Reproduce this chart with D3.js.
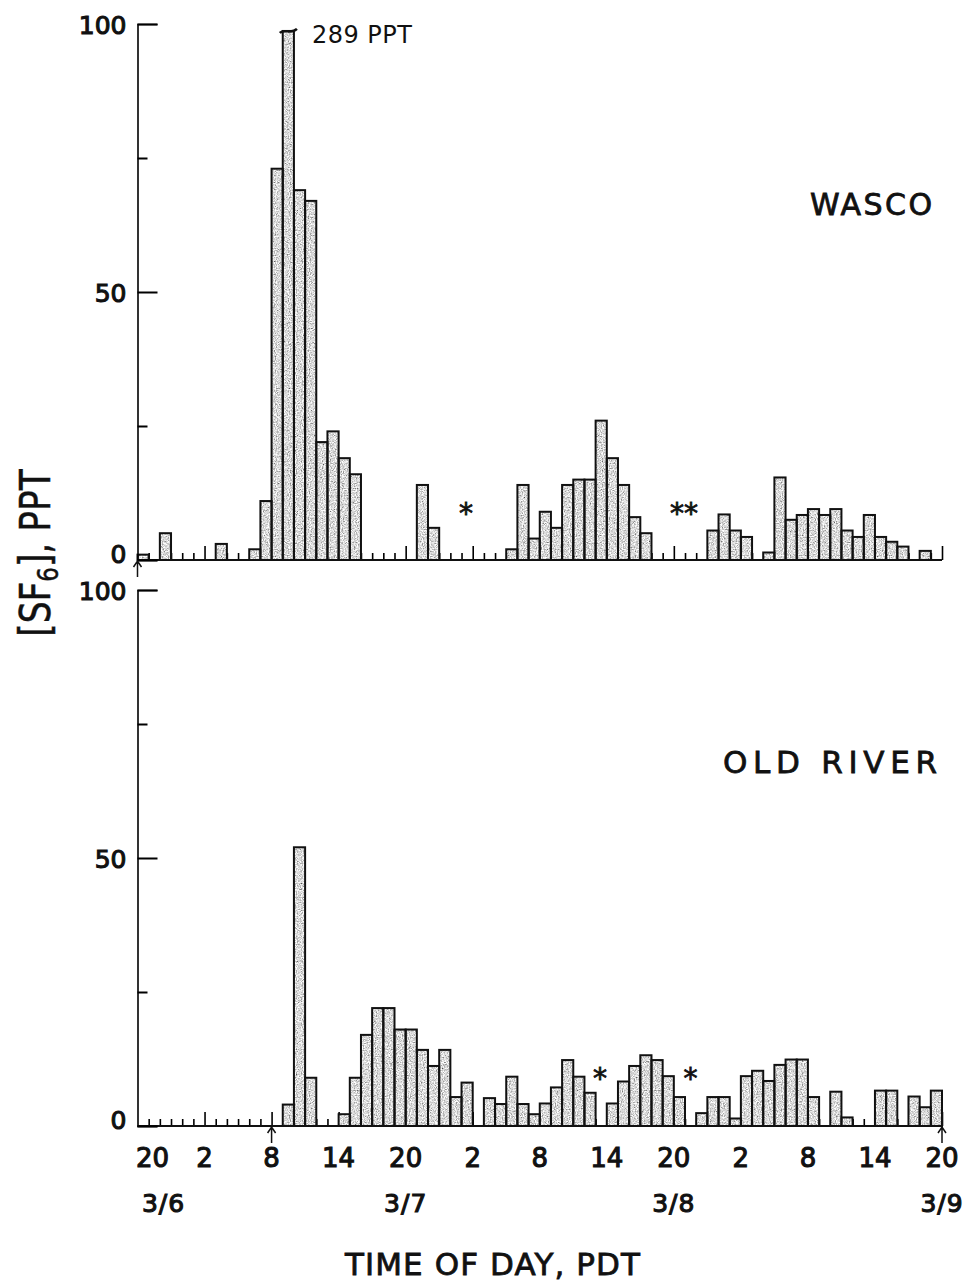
<!DOCTYPE html>
<html>
<head>
<meta charset="utf-8">
<script src="https://cdn.jsdelivr.net/npm/d3@7"></script>
<style>
body { margin: 0; background: #fff; }
text { font-family: "DejaVu Sans", "Liberation Sans", sans-serif; fill: #111; }
</style>
</head>
<body>
<svg width="975" height="1282"></svg>
<script>
// hourly SF6 samples, hour 0 = 3/6 20:00 PDT, 0 = no bar
var wasco = [1, 0, 5, 0, 0, 0, 0, 3, 0, 0, 2, 11,
             73, 289, 69, 67, 22, 24, 19, 16, 0, 0, 0, 0,
             0, 14, 6, 0, 0, 0, 0, 0, 0, 2, 14, 4,
             9, 6, 14, 15, 15, 26, 19, 14, 8, 5, 0, 0,
             0, 0, 0, 5.5, 8.5, 5.5, 4.3, 0, 1.4, 15.4, 7.5, 8.4,
             9.5, 8.4, 9.5, 5.5, 4.3, 8.4, 4.3, 3.4, 2.5, 0, 1.7, 0];

var oldRiver = [0, 0, 0, 0, 0, 0, 0, 0, 0, 0, 0, 0,
                0, 4, 52, 9, 0, 0, 2.2, 9, 17, 22, 22, 18,
                18, 14.2, 11.2, 14.2, 5.4, 8.1, 0, 5.2, 4.1, 9.2, 4.1, 2.2,
                4.2, 7.2, 12.3, 9.2, 6.2, 0, 4.2, 8.3, 11.2, 13.2, 12.3, 9.3,
                5.4, 0, 2.4, 5.4, 5.4, 1.4, 9.3, 10.3, 8.4, 11.4, 12.4, 12.4,
                5.4, 0, 6.4, 1.6, 0, 0, 6.6, 6.6, 0, 5.5, 3.5, 6.6];

var hourTicks = [0, 6, 12, 18, 24, 30, 36, 42, 48, 54, 60, 66, 72];
var hourLabels = ["20", "2", "8", "14", "20", "2", "8", "14", "20", "2", "8", "14", "20"];
var dateTicks = [0, 24, 48, 72];
var dateLabels = ["3/6", "3/7", "3/8", "3/9"];
var majorY = [0, 50, 100];
var minorY = [25, 75];

// asterisks (hour, level) and up-arrows (hour) drawn on each panel
var wascoStars = [[29.4, 10, "*"], [48.9, 10, "**"]];
var oldRiverStars = [[41.4, 10.3, "*"], [49.5, 10.3, "*"]];
var wascoArrows = [0];
var oldRiverArrows = [12, 72];

var svg = d3.select("svg");

var x = d3.scaleLinear().domain([0, 72]).range([137.5, 942]);
var yTop = d3.scaleLinear().domain([0, 100]).range([560, 24]);
var yBot = d3.scaleLinear().domain([0, 100]).range([1126, 590]);

// speckled grey fill like the stippled bars of the original
var filter = svg.append("defs").append("filter")
    .attr("id", "stipple")
    .attr("x", 0).attr("y", 0).attr("width", 1).attr("height", 1);
filter.append("feTurbulence")
    .attr("type", "fractalNoise")
    .attr("baseFrequency", 0.85)
    .attr("numOctaves", 2)
    .attr("seed", 4)
    .attr("result", "noise");
filter.append("feColorMatrix")
    .attr("in", "noise")
    .attr("type", "matrix")
    .attr("values", "1.6 0 0 0 -0.1  1.6 0 0 0 -0.1  1.6 0 0 0 -0.1  0 0 0 0 1")
    .attr("result", "grey");
filter.append("feComposite")
    .attr("in", "grey")
    .attr("in2", "SourceGraphic")
    .attr("operator", "in");

function drawPanel(values, y, stars, arrows) {
  var g = svg.append("g");
  var clipAt = 98.7;

  // hour ticks pointing up from the baseline
  var minor = d3.range(1, 72).filter(function(h) { return h % 6 != 0; });
  g.append("g")
      .attr("transform", "translate(0," + y(0) + ")")
      .call(d3.axisTop(x).tickValues(minor).tickSize(7).tickFormat(""))
      .call(function(a) { a.select(".domain").remove(); })
      .selectAll("line").attr("stroke-width", 1.6);
  g.append("g")
      .attr("transform", "translate(0," + y(0) + ")")
      .call(d3.axisTop(x).tickValues(hourTicks.slice(1)).tickSize(14).tickFormat(""))
      .call(function(a) { a.select(".domain").remove(); })
      .selectAll("line").attr("stroke-width", 1.6);

  var data = values.map(function(v, i) { return {hour: i, value: v}; })
      .filter(function(d) { return d.value > 0; });

  g.selectAll(".fill")
    .data(data)
    .enter().append("rect")
      .attr("class", "fill")
      .attr("x", function(d) { return x(d.hour); })
      .attr("width", function(d) { return x(d.hour + 1) - x(d.hour); })
      .attr("y", function(d) { return y(Math.min(d.value, clipAt)); })
      .attr("height", function(d) { return y(0) - y(Math.min(d.value, clipAt)); })
      .attr("fill", "#fff")
      .attr("filter", "url(#stipple)");

  g.selectAll(".bar")
    .data(data)
    .enter().append("rect")
      .attr("class", "bar")
      .attr("x", function(d) { return x(d.hour); })
      .attr("width", function(d) { return x(d.hour + 1) - x(d.hour); })
      .attr("y", function(d) { return y(Math.min(d.value, clipAt)); })
      .attr("height", function(d) { return y(0) - y(Math.min(d.value, clipAt)); })
      .attr("fill", "none")
      .attr("stroke", "#111")
      .attr("stroke-width", 2);

  // off-scale bar: wavy break mark and its value
  data.filter(function(d) { return d.value > 100; }).forEach(function(d) {
    var x0 = x(d.hour) - 3, x1 = x(d.hour + 1) + 3, yt = y(clipAt);
    g.append("path")
        .attr("d", "M" + x0 + "," + (yt + 2) + " C" + (x0 + 5) + "," + (yt - 3) + " " +
              (x1 - 6) + "," + (yt + 4) + " " + x1 + "," + (yt - 2))
        .attr("fill", "none")
        .attr("stroke", "#111")
        .attr("stroke-width", 2.5);
    g.append("text")
        .attr("x", x(d.hour + 1) + 18)
        .attr("y", yt + 12)
        .attr("textLength", 100)
        .style("font-size", "24px")
        .text(d.value + " PPT");
  });

  // baseline
  g.append("line")
      .attr("x1", x(0)).attr("x2", x(72))
      .attr("y1", y(0)).attr("y2", y(0))
      .attr("stroke", "#111").attr("stroke-width", 2.2);

  // y axis
  g.append("g")
      .attr("transform", "translate(" + x(0) + ",0)")
      .call(d3.axisRight(y).tickValues(majorY).tickSize(20).tickFormat(""))
      .call(function(a) { a.select(".domain").attr("stroke-width", 1.6); })
      .selectAll("line").attr("stroke-width", 2);
  g.append("g")
      .attr("transform", "translate(" + x(0) + ",0)")
      .call(d3.axisRight(y).tickValues(minorY).tickSize(10).tickFormat(""))
      .call(function(a) { a.select(".domain").remove(); })
      .selectAll("line").attr("stroke-width", 2);

  g.selectAll(".ylab")
    .data(majorY)
    .enter().append("text")
      .attr("class", "ylab")
      .attr("x", x(0) - 11)
      .attr("y", function(d) { return y(d) + (d === 0 ? 3 : 10); })
      .attr("text-anchor", "end")
      .style("font-size", "25px")
      .style("stroke", "#111").style("stroke-width", 1.1)
      .text(function(d) { return d; });

  g.selectAll(".star")
    .data(stars)
    .enter().append("text")
      .attr("class", "star")
      .attr("x", function(d) { return x(d[0]); })
      .attr("y", function(d) { return y(d[1]) + 17; })
      .attr("text-anchor", "middle")
      .style("font-size", "28px")
      .style("stroke", "#111").style("stroke-width", 0.8)
      .text(function(d) { return d[2]; });

  arrows.forEach(function(h) {
    var ax = x(h), ay = y(0);
    g.append("path")
        .attr("d", "M" + ax + "," + (ay + 17) + " L" + ax + "," + (ay + 1) +
              " M" + (ax - 4) + "," + (ay + 7) + " L" + ax + "," + (ay + 1) + " L" + (ax + 4) + "," + (ay + 7))
        .attr("fill", "none")
        .attr("stroke", "#111")
        .attr("stroke-width", 1.5);
  });

  return g;
}

drawPanel(wasco, yTop, wascoStars, wascoArrows);
drawPanel(oldRiver, yBot, oldRiverStars, oldRiverArrows);

// site names
svg.append("text")
    .attr("x", 810).attr("y", 215)
    .attr("textLength", 122)
    .style("font-size", "30px")
    .style("stroke", "#111").style("stroke-width", 0.8)
    .text("WASCO");
svg.append("text")
    .attr("x", 723).attr("y", 773)
    .attr("textLength", 214)
    .style("font-size", "31px")
    .style("stroke", "#111").style("stroke-width", 0.8)
    .text("OLD RIVER");

// hour and date labels under the lower panel
svg.selectAll(".hlab")
  .data(hourTicks)
  .enter().append("text")
    .attr("class", "hlab")
    .attr("x", function(d, i) { return x(d) + (i === 0 ? 15 : 0); })
    .attr("y", 1167)
    .attr("text-anchor", "middle")
    .style("font-size", "26px")
    .style("stroke", "#111").style("stroke-width", 1.1)
    .text(function(d, i) { return hourLabels[i]; });

svg.selectAll(".dlab")
  .data(dateTicks)
  .enter().append("text")
    .attr("class", "dlab")
    .attr("x", function(d, i) { return x(d) + (i === 0 ? 26 : 0); })
    .attr("y", 1212)
    .attr("text-anchor", "middle")
    .style("font-size", "25px")
    .style("stroke", "#111").style("stroke-width", 1.1)
    .style("letter-spacing", "1px")
    .text(function(d, i) { return dateLabels[i]; });

svg.append("text")
    .attr("x", 345).attr("y", 1275)
    .attr("textLength", 295)
    .style("font-size", "31px")
    .style("stroke", "#111").style("stroke-width", 0.8)
    .text("TIME OF DAY, PDT");

// y axis title with subscript
var ylab = svg.append("text")
    .attr("transform", "translate(50,553) rotate(-90) scale(0.82,1)")
    .attr("text-anchor", "middle")
    .style("font-size", "42px")
    .style("stroke", "#111").style("stroke-width", 0.5);
ylab.append("tspan").text("[SF");
ylab.append("tspan").attr("dy", 8).style("font-size", "28px").text("6");
ylab.append("tspan").attr("dy", -8).text("], PPT");
</script>
</body>
</html>
